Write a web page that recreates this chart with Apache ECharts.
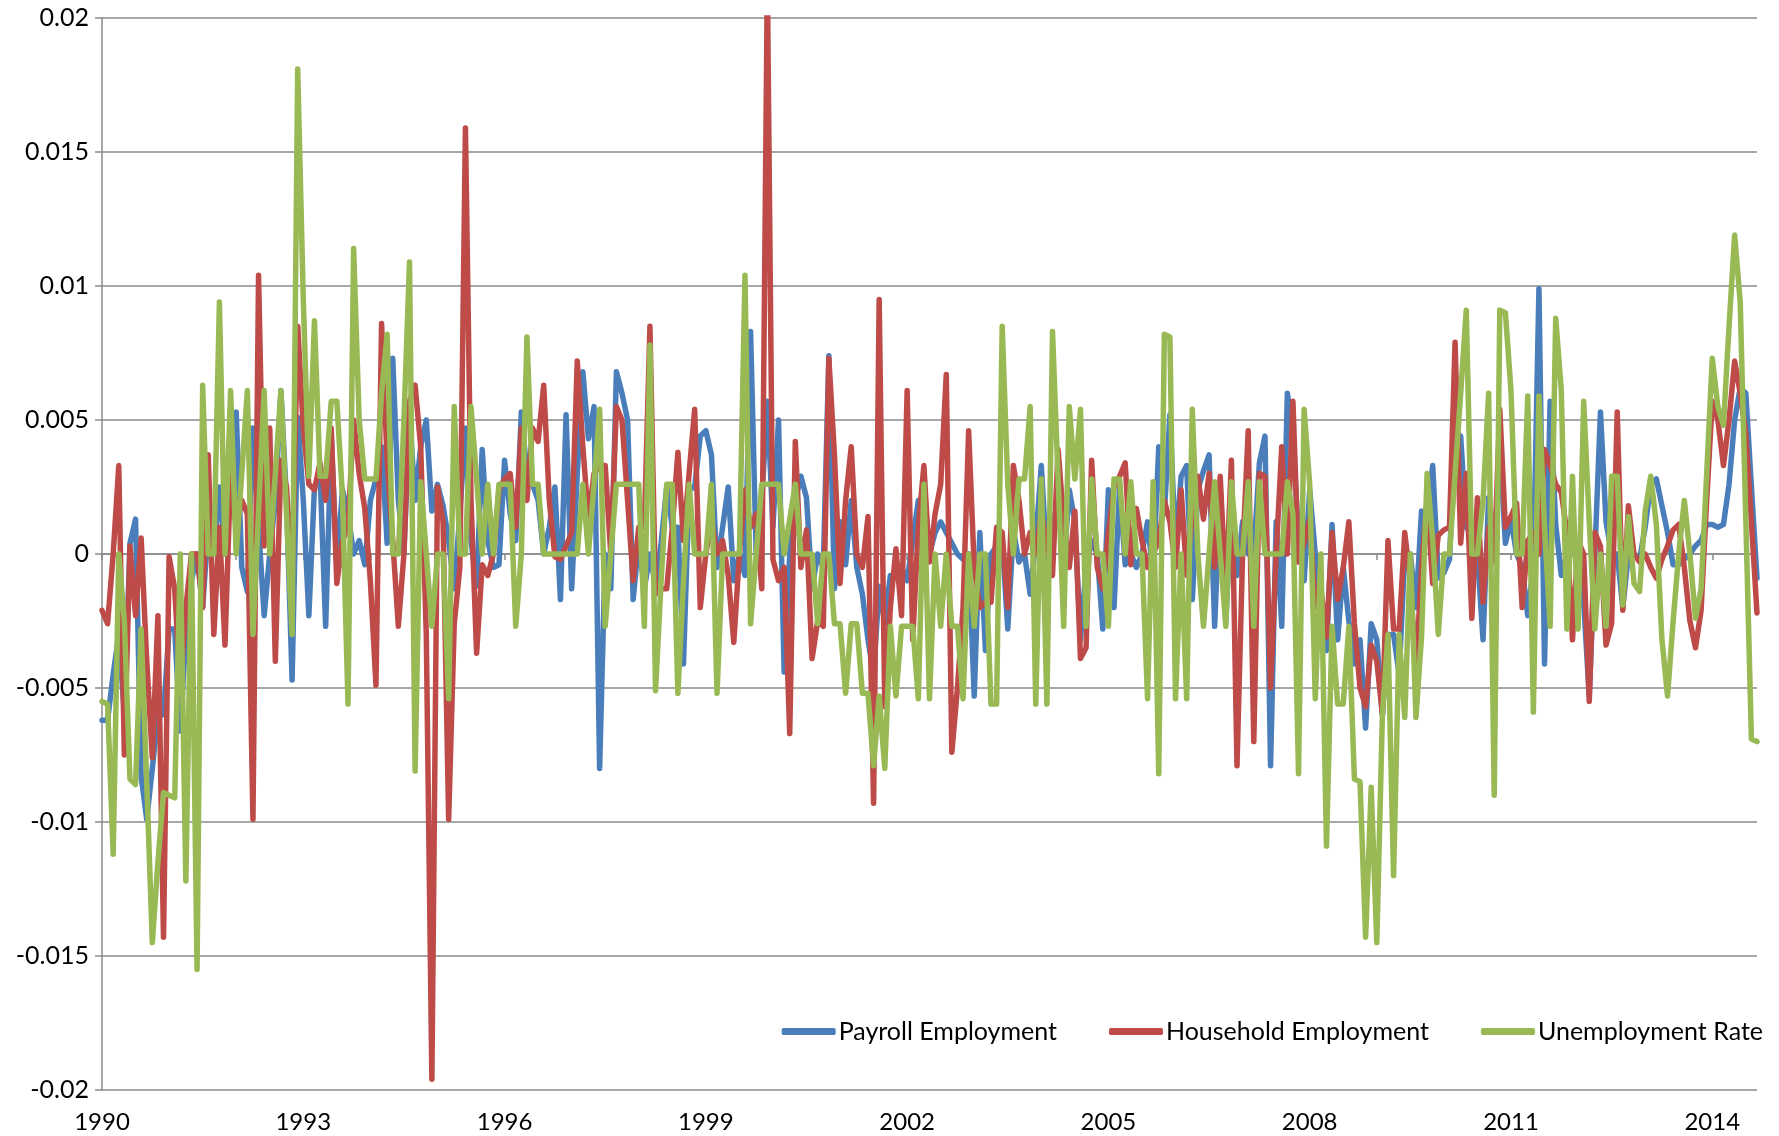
<!DOCTYPE html>
<html>
<head>
<meta charset="utf-8">
<script src="https://cdn.jsdelivr.net/npm/echarts@6/dist/echarts.min.js"></script>
<style>
  html, body { margin: 0; padding: 0; background: #fff; }
  #chart { width: 1779px; height: 1136px; }
</style>
</head>
<body>
<div id="chart"></div>
<script>
// monthly series, Jan 1990 onwards
var startYear = 1990;
var monthCount = 297;

var payroll = [
  -0.0062, -0.0062, -0.0045, -0.003, -0.006, 0.0004, 0.0013, -0.0083, -0.0099, -0.008,
  -0.006, -0.006, -0.0028, -0.0028, -0.0066, -0.003, -0.001, 0.0, -0.002, 0.001,
  0.0, 0.0025, 0.0, 0.0025, 0.0053, -0.0005, -0.0014, 0.0047, 0.001, -0.0023,
  0.0, 0.002, 0.0061, 0.002, -0.0047, 0.0051, 0.002, -0.0023, 0.0025, 0.003,
  -0.0027, 0.0044, -0.0005, 0.0024, 0.0015, 0.0, 0.0005, -0.0004, 0.002, 0.0028,
  0.004, 0.0004, 0.0073, 0.002, 0.0, 0.0052, 0.002, 0.004, 0.005, 0.0016,
  0.0026, 0.0018, 0.0005, -0.0013, 0.0015, 0.0047, 0.0005, -0.0012, 0.0039, 0.0005,
  -0.0005, -0.0004, 0.0035, 0.0015, 0.0005, 0.0053, 0.003, 0.0026, 0.002, 0.0,
  0.001, 0.0025, -0.0017, 0.0052, -0.0013, 0.003, 0.0068, 0.0043, 0.0055, -0.008,
  0.0, -0.0013, 0.0068, 0.006, 0.005, -0.0017, 0.0005, -0.0013, 0.0, -0.0012,
  0.0004, 0.0025, 0.001, 0.001, -0.0041, 0.0024, 0.0025, 0.0044, 0.0046, 0.0037,
  -0.0005, 0.001, 0.0025, -0.001, 0.0, -0.0008, 0.0083, 0.0, 0.002, 0.0057,
  0.001, 0.005, -0.0044, 0.0, 0.002, 0.0029, 0.0021, -0.0013, 0.0, -0.0005,
  0.0074, -0.0013, 0.0012, -0.0004, 0.002, -0.0005, -0.0015, -0.0032, -0.0045, -0.0012,
  -0.0026, -0.0008, -0.0008, -0.0005, -0.001, 0.0005, 0.002, 0.0016, 0.0, 0.0008,
  0.0012, 0.0008, 0.0004, 0.0, -0.0002, 0.0, -0.0053, 0.0008, -0.0036, 0.0,
  0.0003, 0.0005, -0.0028, 0.0009, -0.0003, 0.0, -0.0015, 0.0005, 0.0033, -0.0003,
  0.001, 0.002, -0.0005, 0.0024, 0.0012, -0.0032, -0.0005, 0.0005, 0.0, -0.0028,
  0.0024, -0.002, 0.0025, -0.0004, 0.0, -0.0005, 0.0, 0.0012, -0.0008, 0.004,
  0.0015, 0.0052, 0.0002, 0.0029, 0.0033, -0.0017, 0.0024, 0.0031, 0.0037, -0.0027,
  0.0024, -0.0025, 0.0018, -0.0008, 0.0012, 0.0, 0.0, 0.0034, 0.0044, -0.0079,
  0.0012, -0.0027, 0.006, 0.0045, 0.0005, -0.001, 0.0024, 0.0, -0.0035, -0.0036,
  0.0011, -0.0032, -0.0005, -0.0025, -0.0041, -0.0032, -0.0065, -0.0026, -0.0032, -0.006,
  -0.003, -0.003, -0.0045, 0.0, 0.0, -0.002, 0.0016, 0.0015, 0.0033, -0.0009,
  -0.0007, -0.0002, 0.0045, 0.0044, 0.001, 0.0007, 0.0, -0.0032, 0.0021, 0.0,
  0.004, 0.0004, 0.0013, 0.0, -0.0005, -0.0023, -0.0005, 0.0099, -0.0041, 0.0057,
  0.0011, -0.0008, 0.0, 0.0, 0.0, -0.0018, -0.0053, 0.0, 0.0053, 0.0012,
  0.0, 0.0, -0.002, 0.0, 0.0, -0.0002, 0.001, 0.0026, 0.0028, 0.0018,
  0.0008, -0.0004, -0.0004, -0.0002, 0.0, 0.0003, 0.0005, 0.0011, 0.0011, 0.001,
  0.0011, 0.0026, 0.005, 0.0062, 0.006, 0.0025, -0.0009
];

var household = [
  -0.0021, -0.0026, 0.0, 0.0033, -0.0075, 0.0003, -0.0023, 0.0006, -0.004, -0.0076,
  -0.0023, -0.0143, -0.0001, -0.0013, -0.005, -0.002, 0.0, 0.0, -0.002, 0.0037,
  -0.003, 0.001, -0.0034, 0.003, 0.001, 0.002, 0.0015, -0.0099, 0.0104, 0.0003,
  0.0047, -0.004, 0.0035, 0.0025, -0.001, 0.0085, 0.0047, 0.0026, 0.0024, 0.0034,
  0.002, 0.0047, -0.0011, 0.0005, 0.001, 0.005, 0.003, 0.0017, -0.001, -0.0049,
  0.0086, 0.0035, 0.0005, -0.0027, 0.0, 0.0057, 0.0063, 0.004, -0.003, -0.0196,
  0.0025, 0.0012, -0.0099, -0.0026, -0.0005, 0.0159, 0.002, -0.0037, -0.0004, -0.0008,
  0.0, 0.0024, 0.0028, 0.003, 0.001, 0.0047, 0.002, 0.0047, 0.0042, 0.0063,
  0.002, -0.0001, -0.0002, 0.0003, 0.0008, 0.0072, 0.004, 0.0013, 0.003, 0.0033,
  0.0033, 0.0, 0.0055, 0.005, 0.002, -0.001, 0.001, 0.001, 0.0085, -0.0015,
  -0.0013, -0.0013, 0.001, 0.0038, 0.0005, 0.003, 0.0054, -0.002, 0.0, 0.0013,
  0.0, 0.0005, -0.0008, -0.0033, 0.0, 0.0024, 0.001, 0.0015, -0.0013, 0.0215,
  -0.0002, -0.001, -0.0005, -0.0067, 0.0042, -0.0005, 0.0009, -0.0039, -0.0025, -0.0027,
  0.0073, 0.0037, -0.0011, 0.002, 0.004, 0.0, -0.0005, 0.0014, -0.0093, 0.0095,
  -0.0057, -0.002, 0.0002, -0.0023, 0.0061, -0.0032, 0.001, 0.0033, -0.0003, 0.0015,
  0.0026, 0.0067, -0.0074, -0.005, -0.002, 0.0046, -0.0005, -0.002, -0.0018, -0.0018,
  0.001, 0.0008, -0.002, 0.0033, 0.002, 0.0, 0.0008, 0.0, 0.0016, 0.0003,
  -0.0008, 0.0039, 0.0012, -0.0005, 0.0016, -0.0039, -0.0035, 0.0035, -0.0005, -0.0013,
  0.0008, 0.0025, 0.0029, 0.0034, -0.0004, 0.0017, 0.0005, -0.0005, 0.0, 0.0005,
  0.002, 0.0012, -0.0005, 0.0024, -0.0008, 0.0015, 0.0029, 0.0013, 0.003, -0.0005,
  0.0029, -0.0015, 0.0035, -0.0079, 0.0, 0.0046, -0.007, 0.003, 0.0029, -0.005,
  0.0, 0.004, 0.0, 0.0057, -0.0003, 0.0004, 0.0013, -0.002, -0.0013, -0.0031,
  0.0008, -0.0017, -0.0005, 0.0012, -0.0026, -0.005, -0.0057, -0.0034, -0.004, -0.006,
  0.0005, -0.0028, -0.0028, 0.0008, -0.001, -0.0044, -0.0005, 0.002, -0.0011, 0.0007,
  0.0009, 0.001, 0.0079, 0.0004, 0.003, -0.0024, 0.0021, -0.0018, 0.001, -0.0003,
  0.0054, 0.001, 0.0014, 0.0019, -0.002, 0.0005, 0.0008, 0.0, 0.0039, 0.0033,
  0.0026, 0.0023, 0.0008, -0.0032, 0.0005, 0.0, -0.0055, 0.0008, 0.0003, -0.0034,
  -0.0026, 0.0053, -0.0021, 0.0018, 0.0, -0.0003, 0.0, -0.0005, -0.0009, -0.0002,
  0.0003, 0.0009, 0.0011, -0.0005, -0.0025, -0.0035, -0.0021, 0.002, 0.0057, 0.005,
  0.0033, 0.005, 0.0072, 0.006, 0.0045, 0.0012, -0.0022
];

var unemployment = [
  -0.0055, -0.0056, -0.0112, 0.0, -0.0025, -0.0084, -0.0086, -0.0028, -0.0085, -0.0145,
  -0.0115, -0.0089, -0.009, -0.0091, 0.0, -0.0122, 0.0, -0.0155, 0.0063, 0.0,
  0.0, 0.0094, 0.0, 0.0061, 0.0, 0.003, 0.0061, -0.003, 0.0016, 0.0061,
  0.0, 0.003, 0.0061, 0.0015, -0.003, 0.0181, 0.0095, 0.0029, 0.0087, 0.0029,
  0.0029, 0.0057, 0.0057, 0.0022, -0.0056, 0.0114, 0.005, 0.0028, 0.0028, 0.0028,
  0.006, 0.0082, 0.0, 0.0, 0.005, 0.0109, -0.0081, 0.0027, 0.0, -0.0027,
  0.0, 0.0, -0.0054, 0.0055, 0.0, 0.0, 0.0055, 0.0028, 0.0, 0.0026,
  0.0, 0.0026, 0.0026, 0.0026, -0.0027, 0.0, 0.0081, 0.0026, 0.0026, 0.0,
  0.0, 0.0, 0.0, 0.0, 0.0, 0.0, 0.0026, 0.0, 0.0026, 0.0054,
  -0.0027, 0.0, 0.0026, 0.0026, 0.0026, 0.0026, 0.0026, -0.0027, 0.0078, -0.0051,
  -0.001, 0.0026, 0.0026, -0.0052, -0.001, 0.0026, 0.0, 0.0, 0.0, 0.0026,
  -0.0052, 0.0, 0.0, 0.0, 0.0, 0.0104, -0.0026, 0.0, 0.0026, 0.0026,
  0.0026, 0.0026, 0.0, 0.0013, 0.0026, 0.0, 0.0, 0.0, -0.0026, 0.0,
  0.0, -0.0026, -0.0026, -0.0052, -0.0026, -0.0026, -0.0052, -0.0052, -0.0079, -0.0053,
  -0.008, -0.0027, -0.0053, -0.0027, -0.0027, -0.0027, -0.0054, 0.0026, -0.0054, 0.0,
  -0.0027, 0.0, -0.0027, -0.0027, -0.0054, 0.0, -0.0027, 0.0, 0.0, -0.0056,
  -0.0056, 0.0085, 0.0026, 0.0, 0.0028, 0.0028, 0.0055, -0.0056, 0.0028, -0.0056,
  0.0083, 0.0028, -0.0027, 0.0055, 0.0028, 0.0054, -0.0027, 0.0028, 0.0, 0.0,
  -0.0027, 0.0028, 0.0028, 0.0, 0.0027, 0.0, 0.0, -0.0054, 0.0027, -0.0082,
  0.0082, 0.0081, -0.0054, 0.0, -0.0054, 0.0054, 0.0, -0.0027, 0.0, 0.0027,
  0.0, -0.0027, 0.0027, 0.0, 0.0, 0.0027, -0.0027, 0.0027, 0.0, 0.0,
  0.0, 0.0, 0.0027, 0.0015, -0.0082, 0.0054, 0.0026, -0.0054, 0.0, -0.0109,
  -0.0027, -0.0056, -0.0056, -0.0027, -0.0084, -0.0085, -0.0143, -0.0087, -0.0145, -0.006,
  -0.003, -0.012, -0.003, -0.0061, 0.0, -0.0061, -0.0031, 0.003, 0.0005, -0.003,
  0.0, 0.0, 0.003, 0.006, 0.0091, 0.0, 0.0, 0.002, 0.006, -0.009,
  0.0091, 0.009, 0.0061, 0.0, 0.0, 0.0059, -0.0059, 0.0059, 0.001, -0.0027,
  0.0088, 0.0061, -0.0028, 0.0029, -0.0028, 0.0057, 0.0012, -0.0028, 0.0, -0.0027,
  0.0029, 0.0029, -0.0019, 0.0014, -0.0011, -0.0014, 0.0016, 0.0029, 0.0011, -0.0032,
  -0.0053, -0.0025, 0.0, 0.002, 0.0, -0.0024, -0.0013, 0.003, 0.0073, 0.0055,
  0.0048, 0.0085, 0.0119, 0.0094, 0.0013, -0.0069, -0.007
];

var seriesNames = ['Payroll Employment', 'Household Employment', 'Unemployment Rate'];
var seriesColors = ['#4a7ebb', '#be4b48', '#98b954'];

var categories = [];
for (var m = 0; m < monthCount; m++) {
    var yr = startYear + Math.floor(m / 12);
    var mo = (m % 12) + 1;
    categories.push(yr + '-' + (mo < 10 ? '0' + mo : mo));
}

var chart = echarts.init(document.getElementById('chart'));

var fontFamily = 'Lato, "Noto Sans", sans-serif';
var gridColor = '#8a8a8a';

var option = {
    animation: false,
    backgroundColor: '#ffffff',
    grid: {
        left: 102,
        right: 22,
        top: 18,
        bottom: 46
    },
    legend: {
        data: seriesNames,
        right: 11,
        top: 1014,
        icon: 'roundRect',
        itemWidth: 54,
        itemHeight: 7,
        itemGap: 52,
        textStyle: {
            fontFamily: fontFamily,
            fontSize: 25,
            color: '#000',
            padding: [0, 0, 0, -2]
        }
    },
    xAxis: [
        {
            type: 'category',
            data: categories,
            boundaryGap: false,
            position: 'bottom',
            axisLine: { show: false, onZero: false },
            axisTick: { show: false },
            splitLine: { show: false },
            axisLabel: {
                interval: 35,
                margin: 20,
                fontFamily: fontFamily,
                fontSize: 24,
                color: '#000',
                formatter: function (value) {
                    return value.slice(0, 4);
                }
            }
        },
        {
            type: 'category',
            data: categories,
            boundaryGap: false,
            position: 'top',
            axisLine: {
                show: true,
                onZero: true,
                lineStyle: { color: gridColor, width: 1.5 }
            },
            axisTick: {
                show: true,
                inside: true,
                interval: 11,
                length: 6,
                lineStyle: { color: gridColor, width: 1.5 }
            },
            axisLabel: { show: false },
            splitLine: { show: false }
        }
    ],
    yAxis: {
        type: 'value',
        min: -0.02,
        max: 0.02,
        interval: 0.005,
        axisLine: { show: true, lineStyle: { color: gridColor, width: 1.5 } },
        axisTick: { show: true, length: 7, lineStyle: { color: gridColor, width: 1.5 } },
        splitLine: { show: true, lineStyle: { color: gridColor, width: 1.5 } },
        axisLabel: {
            margin: 13,
            fontFamily: fontFamily,
            fontSize: 25,
            color: '#000',
            formatter: function (v) {
                return String(parseFloat(v.toFixed(3)));
            }
        }
    },
    series: [
        { name: seriesNames[0], data: payroll },
        { name: seriesNames[1], data: household },
        { name: seriesNames[2], data: unemployment }
    ].map(function (s, i) {
        return {
            name: s.name,
            type: 'line',
            xAxisIndex: 0,
            data: s.data,
            symbol: 'none',
            showSymbol: false,
            clip: true,
            color: seriesColors[i],
            itemStyle: { color: seriesColors[i] },
            lineStyle: { color: seriesColors[i], width: 5.5, join: 'round', cap: 'round' }
        };
    })
};

chart.setOption(option);
</script>
</body>
</html>
